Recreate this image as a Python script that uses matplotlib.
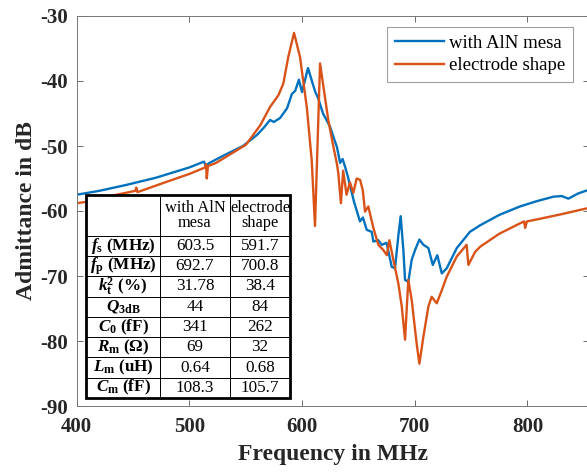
import matplotlib
matplotlib.use('Agg')
import matplotlib.pyplot as plt
from matplotlib.patches import Rectangle

plt.rcParams['font.family'] = 'Liberation Serif'
plt.rcParams['axes.unicode_minus'] = False
plt.rcParams['mathtext.fontset'] = 'custom'
plt.rcParams['mathtext.rm'] = 'Liberation Serif'
plt.rcParams['mathtext.it'] = 'Liberation Serif:italic'
plt.rcParams['mathtext.bf'] = 'Liberation Serif:bold'
plt.rcParams['mathtext.bfit'] = 'Liberation Serif:bold:italic'

# admittance curves (MHz, dB)
f_mesa = [400, 420, 443.8, 470, 500, 513, 514.5, 518, 530, 547.6, 560, 566, 571.6, 575,
          580.5, 586.7, 591, 594, 597.2, 600, 605.3, 609.8, 612, 614, 618.6, 624.8, 631,
          633.8, 636, 638.2, 640.8, 646, 651.4, 654, 657.4, 661.8, 663.3, 667.7, 670.7,
          675, 679.6, 682.5, 685.4, 687.5, 689.9, 691.4, 694.3, 697.3, 700.3, 704.1,
          707.7, 712.1, 716, 720, 724, 728.4, 737.3, 749, 758, 775, 793.4, 808, 823,
          830.4, 836.3, 845, 855]
db_mesa = [-57.5, -56.9, -56.0, -54.9, -53.3, -52.4, -53.0, -52.6, -51.5, -50.0, -48.3,
           -47.2, -46.0, -46.3, -45.7, -44.2, -42.0, -41.5, -39.8, -41.7, -38.0, -40.6,
           -41.8, -42.5, -45.0, -47.0, -50.2, -52.6, -52.0, -53.2, -54.8, -58.5, -61.6,
           -61.0, -62.9, -63.2, -64.7, -64.5, -65.2, -64.9, -68.6, -68.8, -63.9, -60.8,
           -66.0, -70.6, -70.9, -67.5, -66.0, -64.4, -65.2, -65.7, -68.3, -66.8, -69.6,
           -68.8, -65.7, -63.2, -62.2, -60.6, -59.3, -58.5, -57.8, -57.7, -58.1, -57.3,
           -56.7]

f_elec = [400, 408.3, 430, 452, 453, 454, 480, 500, 514, 514.8, 515.5, 516.5, 523.7,
          550.3, 563, 571.6, 579, 583.4, 587.8, 592.9, 598.2, 604.2, 608.6, 611.5, 616,
          619, 623.3, 627.8, 630.8, 632.2, 634.5, 636.5, 639.5, 642.5, 645.5, 648.5,
          651.5, 653.9, 655.9, 658.8, 663.3, 667.7, 672.1, 675.2, 677.5, 681, 685.4,
          688.5, 691.4, 694.3, 697.3, 701.7, 704.1, 707.7, 712.1, 715, 719.5, 724, 728.4,
          737.3, 746, 747.6, 753.5, 758, 775, 793.4, 797, 798, 799.5, 808.3, 830, 855]
db_elec = [-58.8, -58.6, -57.7, -56.9, -56.4, -57.1, -55.5, -54.3, -53.3, -52.8, -55.0,
           -53.1, -52.6, -49.8, -46.8, -44.0, -42.2, -40.4, -36.3, -32.6, -36.3, -44.0,
           -52.2, -62.3, -37.3, -40.9, -46.0, -50.1, -52.6, -54.2, -58.8, -53.8, -57.5,
           -55.6, -57.2, -55.0, -55.2, -56.8, -60.1, -59.3, -62.6, -65.2, -66.0, -66.8,
           -64.5, -67.5, -71.1, -74.7, -79.8, -70.6, -73.7, -80.4, -83.5, -79.3, -74.7,
           -73.2, -74.2, -72.2, -70.1, -67.0, -65.2, -68.3, -66.3, -65.5, -63.5, -61.9,
           -61.6, -62.6, -61.6, -61.3, -60.5, -59.5]

series_names = ['with AlN mesa', 'electrode shape']
colors = ['#0072BD', '#D95319']

# table of extracted parameters
header = ['', 'with AlN\nmesa', 'electrode\nshape']
param_labels = [r'$\mathbfit{f}_{\mathbf{s}}$ (MHz)',
                r'$\mathbfit{f}_{\mathbf{p}}$ (MHz)',
                r'$\mathbfit{k}_{\mathbf{t}}^{\mathbf{2}}$ (%)',
                r'$\mathbfit{Q}_{\mathbf{3dB}}$',
                r'$\mathbfit{C}_{\mathbf{0}}$ (fF)',
                r'$\mathbfit{R}_{\mathbf{m}}$ ($\mathbf{\Omega}$)',
                r'$\mathbfit{L}_{\mathbf{m}}$ (uH)',
                r'$\mathbfit{C}_{\mathbf{m}}$ (fF)']
mesa_vals = ['603.5', '692.7', '31.78', '44', '341', '69', '0.64', '108.3']
elec_vals = ['591.7', '700.8', '38.4', '84', '262', '32', '0.68', '105.7']

W, H = 587, 473
fig = plt.figure(figsize=(W / 100, H / 100), dpi=100)
ax = fig.add_axes([76.6 / W, (H - 406) / H, (589 - 76.6) / W, 390 / H])

ax.plot(f_mesa, db_mesa, color=colors[0], lw=1.7, label=series_names[0])
ax.plot(f_elec, db_elec, color=colors[1], lw=1.7, label=series_names[1])

ax.set_xlim(400, 854.6)
ax.set_ylim(-90, -30)
ax.set_xticks([400, 500, 600, 700, 800])
ax.set_yticks([-90, -80, -70, -60, -50, -40, -30])
ax.tick_params(direction='in', top=True, right=True, length=4, width=0.6,
               color='#555555', labelsize=15)
ax.tick_params(axis='x', pad=8)
ax.tick_params(axis='y', pad=6)
for lab in ax.get_xticklabels() + ax.get_yticklabels():
    lab.set_fontweight('bold')
    lab.set_color('#262626')
for sp in ax.spines.values():
    sp.set_color('#777777')
    sp.set_linewidth(0.7)

ax.set_xlabel('Frequency in MHz', fontsize=17, fontweight='bold', color='#262626', labelpad=5)
ax.set_ylabel('Admittance in dB', fontsize=17, fontweight='bold', color='#262626')
ax.yaxis.set_label_coords(-(76.6 - 37) / 512.4, 0.5)

leg = ax.legend(loc='upper right', bbox_to_anchor=((573 - 76.6) / 512.4, (406 - 27) / 390),
                fontsize=13.5, frameon=True, fancybox=False, handlelength=2.6,
                handletextpad=0.3, borderpad=0.4, labelspacing=0.3, borderaxespad=0)
leg.get_frame().set_edgecolor('#888888')
leg.get_frame().set_linewidth(0.8)

cell_text = [header] + [[p, a, b] for p, a, b in zip(param_labels, mesa_vals, elec_vals)]
t_left, t_right = (86 - 76.6) / 512.4, (290 - 76.6) / 512.4
t_bot, t_top = (406 - 398) / 390, (406 - 195) / 390
tab = ax.table(cellText=cell_text, cellLoc='center', colWidths=[74, 70, 60],
               bbox=[t_left, t_bot, t_right - t_left, t_top - t_bot])
tab.auto_set_font_size(False)
tab.set_fontsize(12.3)
tab.set_zorder(5)
for (r, c), cell in tab.get_celld().items():
    cell.set_linewidth(0.7)
    cell.set_edgecolor('black')
    cell.set_height(2.0 if r == 0 else 1.0)
    cell.PAD = 0.01
    if c == 0:
        cell.get_text().set_fontweight('bold')
    if r == 0:
        cell.get_text().set_linespacing(0.95)
        cell.get_text().set_fontsize(11.8)
ax.add_patch(Rectangle((t_left, t_bot), t_right - t_left, t_top - t_bot,
                       transform=ax.transAxes, fill=False, lw=2, ec='black', zorder=6))

fig.savefig('out.png', dpi=100)
